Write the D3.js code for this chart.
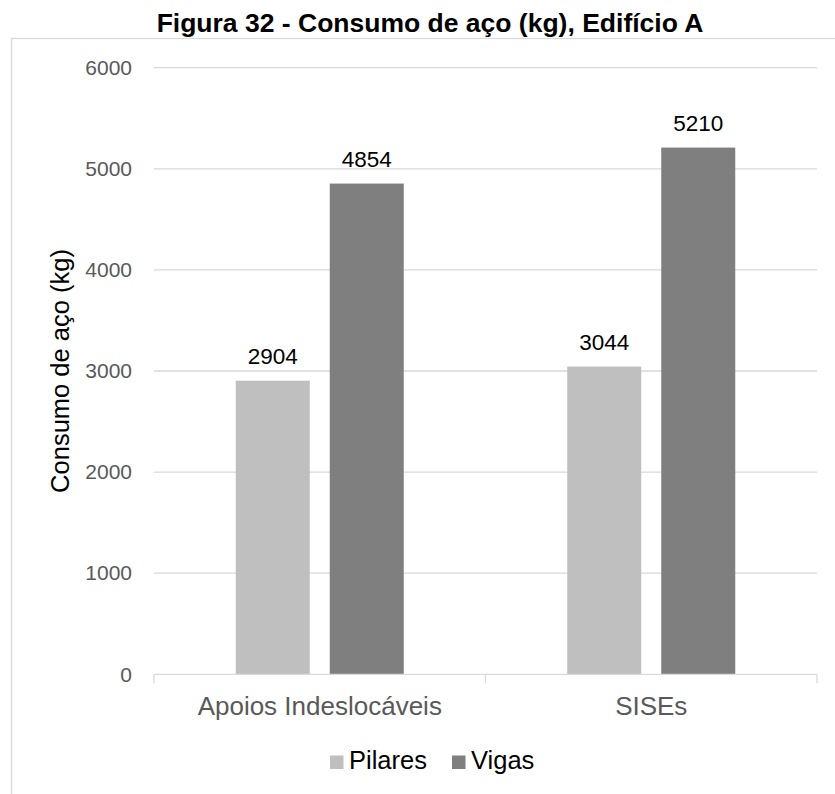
<!DOCTYPE html>
<html>
<head>
<meta charset="utf-8">
<script src="https://cdn.jsdelivr.net/npm/d3@7"></script>
<style>
  html, body { margin: 0; padding: 0; background: #ffffff; }
  svg { display: block; font-family: "Liberation Sans", Arial, sans-serif; }
</style>
</head>
<body>
<svg id="chart" width="835" height="794"></svg>
<script>
// Steel consumption per structural element, for two support models
const categories = ["Apoios Indeslocáveis", "SISEs"];
const seriesNames = ["Pilares", "Vigas"];
const pilares = [2904, 3044];
const vigas = [4854, 5210];
const yTicks = [0, 1000, 2000, 3000, 4000, 5000, 6000];
const seriesColors = ["#bfbfbf", "#7f7f7f"];

const titleText = "Figura 32 - Consumo de aço (kg), Edifício A";
const yTitle = "Consumo de aço (kg)";

const values = [pilares, vigas];
const data = categories.map((c, i) => ({
  category: c,
  bars: seriesNames.map((s, j) => ({ series: s, value: values[j][i], color: seriesColors[j] }))
}));

const svg = d3.select("#chart");

// Chart frame
svg.append("rect")
  .attr("x", 11.5).attr("y", 38.5)
  .attr("width", 900).attr("height", 900)
  .attr("fill", "none").attr("stroke", "#d9d9d9").attr("stroke-width", 1.3);

const plot = { left: 154, right: 817, top: 67.7, bottom: 674.3 };

const y = d3.scaleLinear().domain([0, 6000]).range([plot.bottom, plot.top]);
const x0 = d3.scaleBand().domain(categories).range([plot.left, plot.right]).padding(0);
const groupW = 168;
const x1 = d3.scaleBand().domain(seriesNames)
  .range([(x0.bandwidth() - groupW) / 2, (x0.bandwidth() + groupW) / 2])
  .paddingInner(2 - groupW / 94);

// Horizontal gridlines
svg.append("g")
  .selectAll("line")
  .data(yTicks.filter(t => t > 0))
  .join("line")
  .attr("x1", plot.left).attr("x2", plot.right)
  .attr("y1", d => y(d)).attr("y2", d => y(d))
  .attr("stroke", "#d9d9d9").attr("stroke-width", 1.3);

// Y axis tick labels
const yAxis = d3.axisLeft(y).tickValues(yTicks).tickSize(0).tickPadding(22)
  .tickFormat(d3.format("d"));
const gy = svg.append("g").attr("transform", `translate(${plot.left},0)`).call(yAxis);
gy.select(".domain").remove();
gy.selectAll("text")
  .attr("fill", "#595959")
  .style("font-size", "21px")
  .style("font-family", "'Liberation Sans', Arial, sans-serif");

// Bars
const groups = svg.append("g")
  .selectAll("g")
  .data(data)
  .join("g")
  .attr("transform", d => `translate(${x0(d.category)},0)`);

groups.selectAll("rect")
  .data(d => d.bars)
  .join("rect")
  .attr("x", d => x1(d.series))
  .attr("width", x1.bandwidth())
  .attr("y", d => y(d.value))
  .attr("height", d => y(0) - y(d.value))
  .attr("fill", d => d.color);

// Value labels
groups.selectAll("text")
  .data(d => d.bars)
  .join("text")
  .attr("x", d => x1(d.series) + x1.bandwidth() / 2)
  .attr("y", d => y(d.value) - 17)
  .attr("text-anchor", "middle")
  .attr("fill", "#000000")
  .style("font-size", "22.5px")
  .text(d => d.value);

// X axis baseline with category dividers
const xAxis = d3.axisBottom(x0).tickSize(0).tickPadding(0);
const gx = svg.append("g").attr("transform", `translate(0,${plot.bottom})`).call(xAxis);
gx.select(".domain").attr("stroke", "#d9d9d9").attr("stroke-width", 1.3)
  .attr("d", `M${plot.left},0H${plot.right}`);
gx.selectAll(".tick text")
  .attr("fill", "#595959")
  .attr("y", 0)
  .attr("dy", "41px")
  .style("font-size", "26px")
  .style("font-family", "'Liberation Sans', Arial, sans-serif");
gx.selectAll(".tick line").remove();
const dividers = [plot.left, ...categories.slice(1).map(c => x0(c)), plot.right];
gx.selectAll("line.divider")
  .data(dividers)
  .join("line")
  .attr("class", "divider")
  .attr("x1", d => d).attr("x2", d => d)
  .attr("y1", 0).attr("y2", 9)
  .attr("stroke", "#d9d9d9").attr("stroke-width", 1.3);

// Y axis title
svg.append("text")
  .attr("transform", `translate(69,${(plot.top + plot.bottom) / 2}) rotate(-90)`)
  .attr("text-anchor", "middle")
  .attr("fill", "#000000")
  .style("font-size", "25.5px")
  .text(yTitle);

// Chart title
svg.append("text")
  .attr("x", 430).attr("y", 32)
  .attr("text-anchor", "middle")
  .attr("fill", "#000000")
  .style("font-size", "26.5px")
  .style("font-weight", "bold")
  .text(titleText);

// Legend
const legendItems = [
  { name: seriesNames[0], color: seriesColors[0], sx: 330, tx: 349 },
  { name: seriesNames[1], color: seriesColors[1], sx: 452, tx: 471 }
];
const legend = svg.append("g");
legend.selectAll("rect")
  .data(legendItems)
  .join("rect")
  .attr("x", d => d.sx).attr("y", 755.5)
  .attr("width", 13.5).attr("height", 13.5)
  .attr("fill", d => d.color);
legend.selectAll("text")
  .data(legendItems)
  .join("text")
  .attr("x", d => d.tx).attr("y", 769)
  .attr("fill", "#000000")
  .style("font-size", "25.5px")
  .text(d => d.name);
</script>
</body>
</html>
